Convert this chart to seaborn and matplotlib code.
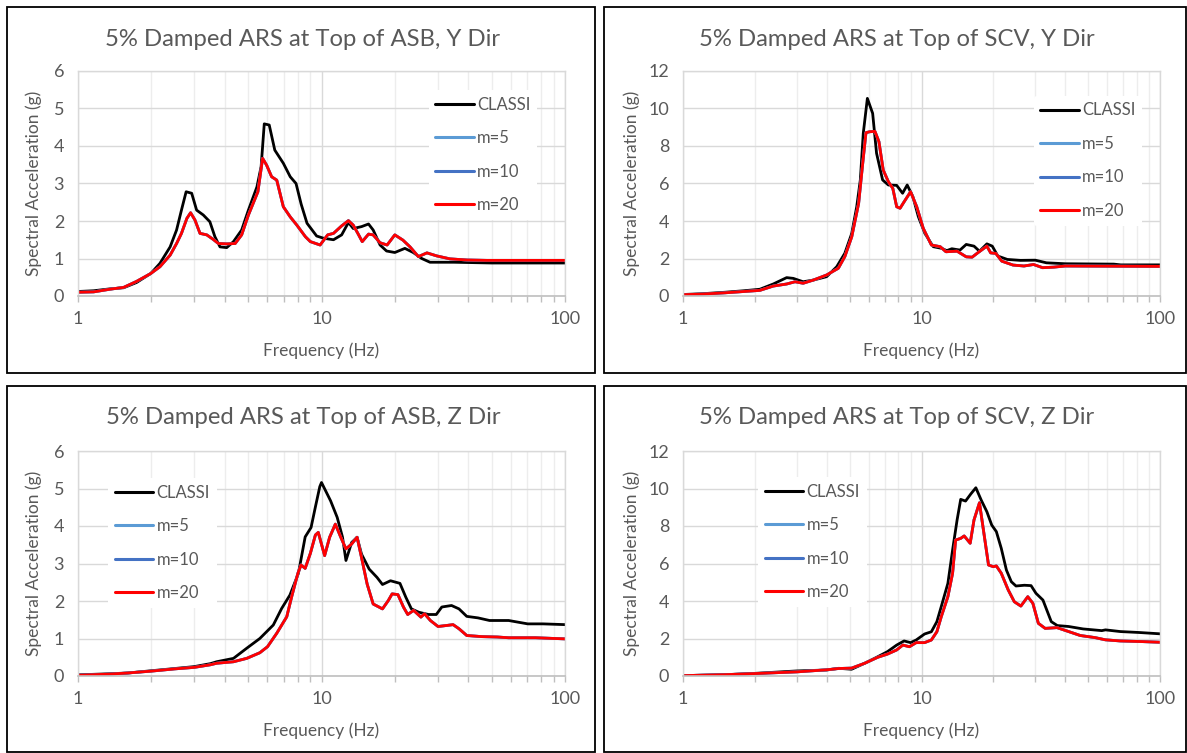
import matplotlib
matplotlib.use("Agg")
import matplotlib.pyplot as plt
import matplotlib.ticker as mticker
from matplotlib.patches import Rectangle
import seaborn as sns

# ---- ASB, Y direction ----
ASB_Y_F_CLASSI = [1.0, 1.16, 1.35, 1.54, 1.74, 1.99, 2.17, 2.39, 2.54, 2.66, 2.78, 2.93, 3.07, 3.27,
                  3.48, 3.65, 3.83, 4.08, 4.35, 4.70, 5.01, 5.43, 5.65, 5.82, 6.10, 6.43, 6.97, 7.44,
                  7.86, 8.25, 8.72, 9.55, 10.2, 11.2, 12.1, 12.9, 13.5, 14.6, 15.6, 16.3, 17.4, 18.5,
                  20.0, 22.0, 23.8, 25.8, 27.9, 35.0, 50.0, 70.0, 100.0]
ASB_Y_CLASSI = [0.12, 0.14, 0.19, 0.22, 0.36, 0.60, 0.87, 1.31, 1.76, 2.29, 2.78, 2.74, 2.29, 2.16,
                1.98, 1.58, 1.31, 1.29, 1.45, 1.76, 2.29, 2.91, 3.45, 4.59, 4.56, 3.89, 3.54, 3.18,
                3.00, 2.45, 1.94, 1.60, 1.54, 1.50, 1.63, 1.96, 1.80, 1.85, 1.92, 1.76, 1.36, 1.20,
                1.16, 1.27, 1.16, 1.00, 0.90, 0.90, 0.88, 0.88, 0.88]
ASB_Y_F_M20 = [1.0, 1.16, 1.35, 1.54, 1.74, 1.99, 2.17, 2.39, 2.54, 2.66, 2.80, 2.90, 3.02, 3.17,
               3.38, 3.59, 3.77, 4.08, 4.42, 4.70, 5.01, 5.48, 5.73, 5.95, 6.24, 6.55, 6.97, 7.44,
               7.92, 8.59, 9.0, 9.87, 10.6, 11.2, 12.1, 12.9, 13.5, 14.1, 14.7, 15.6, 16.3, 17.4,
               18.6, 20.0, 21.6, 23.1, 25.0, 27.1, 29.7, 33.7, 39.6, 47.7, 70.0, 100.0]
ASB_Y_M20 = [0.10, 0.11, 0.18, 0.23, 0.39, 0.60, 0.78, 1.09, 1.40, 1.67, 2.07, 2.22, 2.03, 1.67,
             1.63, 1.51, 1.40, 1.39, 1.40, 1.63, 2.16, 2.78, 3.67, 3.49, 3.18, 3.09, 2.38, 2.11,
             1.89, 1.58, 1.45, 1.36, 1.63, 1.67, 1.87, 2.01, 1.89, 1.67, 1.45, 1.65, 1.63, 1.42,
             1.36, 1.63, 1.49, 1.31, 1.05, 1.15, 1.07, 0.99, 0.96, 0.95, 0.95, 0.95]

# ---- SCV, Y direction ----
SCV_Y_F_CLASSI = [1.0, 1.2, 1.5, 1.8, 2.10, 2.39, 2.72, 2.90, 3.19, 3.52, 4.0, 4.41, 4.77, 5.10,
                  5.35, 5.54, 5.70, 5.93, 6.24, 6.48, 6.87, 7.26, 7.87, 8.33, 8.71, 9.2, 9.7, 10.33,
                  11.2, 12.17, 12.76, 13.4, 14.5, 15.4, 16.6, 17.5, 18.8, 19.8, 20.9, 22.9, 26.0,
                  30.0, 33.4, 40.1, 64.0, 68.5, 100.0]
SCV_Y_CLASSI = [0.08, 0.12, 0.20, 0.28, 0.36, 0.64, 0.98, 0.94, 0.76, 0.85, 1.03, 1.56, 2.28, 3.34,
                4.76, 6.19, 8.68, 10.54, 9.74, 7.61, 6.19, 5.92, 5.90, 5.48, 5.92, 5.30, 4.23, 3.34,
                2.63, 2.54, 2.42, 2.52, 2.45, 2.75, 2.66, 2.39, 2.78, 2.66, 2.13, 1.95, 1.90,
                1.91, 1.77, 1.72, 1.70, 1.66, 1.66]
SCV_Y_F_M20 = [1.0, 1.2, 1.5, 1.8, 2.10, 2.39, 2.72, 2.95, 3.19, 3.52, 4.0, 4.48, 4.77, 5.10, 5.45,
               5.67, 5.85, 6.06, 6.38, 6.63, 6.91, 7.26, 7.58, 7.87, 8.13, 8.46, 9.0, 9.55, 10.17,
               11.0, 11.98, 12.66, 14.1, 15.4, 16.3, 17.2, 18.8, 19.5, 20.5, 21.7, 24.2, 26.9,
               29.5, 32.2, 35.9, 40.0, 100.0]
SCV_Y_M20 = [0.07, 0.10, 0.17, 0.24, 0.30, 0.53, 0.64, 0.76, 0.68, 0.85, 1.12, 1.48, 2.10, 3.16, 4.94,
             7.08, 8.71, 8.76, 8.78, 8.23, 6.72, 6.10, 5.74, 4.76, 4.68, 5.03, 5.56, 4.76, 3.61,
             2.72, 2.63, 2.36, 2.39, 2.09, 2.07, 2.30, 2.66, 2.30, 2.27, 1.86, 1.65, 1.60,
             1.68, 1.51, 1.54, 1.60, 1.58]

# ---- ASB, Z direction ----
ASB_Z_F_CLASSI = [1.0, 1.35, 1.6, 2.0, 2.5, 3.0, 3.5, 3.71, 4.35, 4.93, 5.58, 6.34, 6.86, 7.42, 8.04,
                  8.57, 9.06, 9.44, 9.84, 10.0, 10.9, 11.6, 12.2, 12.6, 13.3, 14.0, 14.6, 15.7, 16.9,
                  17.8, 19.2, 21.0, 22.2, 23.4, 25.1, 27.5, 29.6, 31.2, 34.2, 36.7, 39.5, 43.9,
                  49.0, 58.7, 70.3, 81.2, 100.0]
ASB_Z_CLASSI = [0.03, 0.06, 0.08, 0.14, 0.20, 0.25, 0.33, 0.38, 0.47, 0.74, 1.00, 1.36, 1.80, 2.16, 2.74,
                3.71, 3.96, 4.51, 5.05, 5.16, 4.67, 4.23, 3.70, 3.08, 3.56, 3.70, 3.25, 2.85, 2.63,
                2.44, 2.54, 2.47, 2.10, 1.79, 1.70, 1.64, 1.64, 1.84, 1.88, 1.79, 1.59, 1.55,
                1.48, 1.48, 1.39, 1.39, 1.37]
ASB_Z_F_M20 = [1.0, 1.35, 1.6, 2.0, 2.5, 3.0, 3.5, 3.71, 4.35, 4.93, 5.58, 6.0, 6.55, 7.2, 7.54, 8.0,
               8.24, 8.57, 9.0, 9.44, 9.7, 10.3, 10.8, 11.4, 12.0, 12.6, 13.3, 14.0, 14.6, 15.4,
               16.3, 17.8, 18.8, 19.5, 20.6, 21.7, 22.6, 23.9, 25.6, 26.5, 28.0, 30.1, 32.9, 34.7,
               36.7, 39.5, 45.6, 52.7, 58.7, 75.6, 100.0]
ASB_Z_M20 = [0.02, 0.05, 0.08, 0.13, 0.19, 0.23, 0.30, 0.34, 0.38, 0.47, 0.62, 0.78, 1.14, 1.58, 2.11,
             2.74, 2.96, 2.87, 3.27, 3.76, 3.83, 3.21, 3.70, 4.05, 3.70, 3.39, 3.52, 3.70, 3.16,
             2.45, 1.92, 1.79, 2.01, 2.19, 2.17, 1.84, 1.64, 1.75, 1.57, 1.66, 1.48, 1.32, 1.35,
             1.37, 1.26, 1.08, 1.05, 1.04, 1.02, 1.02, 0.99]

# ---- SCV, Z direction ----
SCV_Z_F_CLASSI = [1.0, 1.5, 2.0, 3.0, 4.0, 4.5, 5.09, 5.78, 6.56, 7.2, 7.87, 8.45, 9.0, 9.5, 10.3,
                  11.0, 11.6, 12.1, 12.9, 13.5, 14.1, 14.6, 15.3, 16.1, 16.9, 17.8, 18.8, 19.7, 20.6,
                  21.6, 22.7, 23.8, 24.9, 27.0, 28.8, 30.2, 32.3, 35.0, 37.1, 41.4, 47.6, 57.0,
                  59.1, 68.2, 81.8, 100.0]
SCV_Z_CLASSI = [0.02, 0.07, 0.14, 0.27, 0.32, 0.41, 0.36, 0.68, 1.03, 1.30, 1.65, 1.87, 1.78, 1.92, 2.24,
                2.36, 2.90, 3.70, 4.94, 6.72, 8.32, 9.42, 9.33, 9.71, 10.04, 9.38, 8.76, 8.05, 7.70,
                6.81, 5.65, 5.03, 4.80, 4.84, 4.82, 4.41, 4.05, 2.90, 2.69, 2.64, 2.51, 2.42,
                2.46, 2.37, 2.32, 2.25]
SCV_Z_F_M20 = [1.0, 1.5, 2.0, 3.0, 4.0, 4.5, 5.09, 5.78, 6.56, 7.2, 7.87, 8.35, 8.9, 9.5, 10.3, 11.0,
               11.6, 12.1, 12.9, 13.5, 13.9, 14.6, 15.1, 16.0, 16.6, 17.5, 18.1, 19.1, 20.0, 20.6,
               21.6, 23.1, 24.5, 26.1, 27.9, 29.3, 30.9, 33.0, 37.0, 41.4, 46.3, 53.3, 59.0, 68.0,
               82.0, 100.0]
SCV_Z_M20 = [0.02, 0.07, 0.13, 0.22, 0.33, 0.40, 0.42, 0.68, 1.00, 1.17, 1.39, 1.65, 1.56, 1.78, 1.78,
             1.92, 2.36, 3.16, 4.23, 5.48, 7.25, 7.34, 7.47, 7.08, 8.32, 9.24, 7.96, 5.92, 5.83,
             5.87, 5.48, 4.59, 3.96, 3.73, 4.23, 3.88, 2.81, 2.54, 2.58, 2.37, 2.16, 2.05, 1.93,
             1.87, 1.84, 1.80]

# m=5 and m=10 lie right under the m=20 curve in every panel
SERIES_NAMES = ["CLASSI", "m=5", "m=10", "m=20"]
COLORS = ["#000000", "#5B9BD5", "#4472C4", "#FF0000"]

TEXT = "#595959"
GRID = "#D9D9D9"

sns.set_theme(style="white")
plt.rcParams["font.family"] = ["Lato", "DejaVu Sans"]

fig = plt.figure(figsize=(11.87, 7.53), dpi=100)
W, H = 1187.0, 753.0


def px_rect(x0, y0, x1, y1):
    return [x0 / W, 1 - y1 / H, (x1 - x0) / W, (y1 - y0) / H]


panels = [
    ("5% Damped ARS at Top of ASB, Y Dir", 6, 1, (78, 71, 565, 296), (7, 7, 595, 373), (0.72, 0.915),
     [(ASB_Y_F_CLASSI, ASB_Y_CLASSI), (ASB_Y_F_M20, ASB_Y_M20), (ASB_Y_F_M20, ASB_Y_M20), (ASB_Y_F_M20, ASB_Y_M20)]),
    ("5% Damped ARS at Top of SCV, Y Dir", 12, 2, (683, 71, 1160, 296), (604, 7, 1186, 373), (0.735, 0.89),
     [(SCV_Y_F_CLASSI, SCV_Y_CLASSI), (SCV_Y_F_M20, SCV_Y_M20), (SCV_Y_F_M20, SCV_Y_M20), (SCV_Y_F_M20, SCV_Y_M20)]),
    ("5% Damped ARS at Top of ASB, Z Dir", 6, 1, (78, 451, 565, 676), (7, 386, 595, 752), (0.062, 0.88),
     [(ASB_Z_F_CLASSI, ASB_Z_CLASSI), (ASB_Z_F_M20, ASB_Z_M20), (ASB_Z_F_M20, ASB_Z_M20), (ASB_Z_F_M20, ASB_Z_M20)]),
    ("5% Damped ARS at Top of SCV, Z Dir", 12, 2, (683, 451, 1160, 676), (604, 386, 1186, 752), (0.158, 0.885),
     [(SCV_Z_F_CLASSI, SCV_Z_CLASSI), (SCV_Z_F_M20, SCV_Z_M20), (SCV_Z_F_M20, SCV_Z_M20), (SCV_Z_F_M20, SCV_Z_M20)]),
]

for title, ymax, ystep, ax_px, box_px, leg_anchor, series in panels:
    # chart border like the Excel chart area
    fig.patches.append(Rectangle((box_px[0] / W, 1 - box_px[3] / H),
                                 (box_px[2] - box_px[0]) / W, (box_px[3] - box_px[1]) / H,
                                 transform=fig.transFigure, fill=False, edgecolor="#000000", linewidth=1.3))

    ax = fig.add_axes(px_rect(*ax_px))
    for (f, v), name, c in zip(series, SERIES_NAMES, COLORS):
        sns.lineplot(x=f, y=v, ax=ax, color=c, linewidth=2.0, label=name)

    ax.set_xscale("log")
    ax.set_xlim(1, 100)
    ax.set_ylim(0, ymax)
    ax.set_yticks(range(0, ymax + 1, ystep))
    ax.xaxis.set_major_locator(mticker.FixedLocator([1, 10, 100]))
    ax.xaxis.set_major_formatter(mticker.FixedFormatter(["1", "10", "100"]))
    ax.xaxis.set_minor_locator(mticker.LogLocator(base=10, subs=range(2, 10)))
    ax.xaxis.set_minor_formatter(mticker.NullFormatter())

    ax.grid(True, which="major", color=GRID, linewidth=1.0)
    ax.grid(True, which="minor", axis="x", color="#EDEDED", linewidth=1.0)
    ax.set_axisbelow(True)
    for side in ["left", "top", "right"]:
        ax.spines[side].set_color(GRID)
        ax.spines[side].set_linewidth(1.0)
    ax.spines["bottom"].set_color("#BFBFBF")
    ax.spines["bottom"].set_linewidth(1.2)

    ax.tick_params(axis="x", which="both", direction="out", bottom=True, color="#BFBFBF",
                   length=4, width=1.0, labelsize=13, labelcolor=TEXT, pad=7)
    ax.tick_params(axis="y", left=False, labelsize=13, labelcolor=TEXT, pad=4)

    ax.text(0.5, -0.245, "Frequency (Hz)", transform=ax.transAxes, ha="center", va="center",
            fontsize=12.5, color=TEXT)
    ax.text(-0.09 if ymax == 6 else -0.107, 0.5, "Spectral Acceleration (g)", transform=ax.transAxes,
            ha="center", va="center", rotation=90, fontsize=12.5, color=TEXT)
    ax.set_xlabel("")
    ax.set_ylabel("")

    cx = (box_px[0] + box_px[2]) / 2.0 + 2
    fig.text(cx / W, 1 - (box_px[1] + 32) / H, title, ha="center", va="center", fontsize=17.2, color=TEXT)

    handles, labels = ax.get_legend_handles_labels()
    leg = ax.legend(handles, labels, loc="upper left", bbox_to_anchor=leg_anchor, frameon=True,
                    fontsize=12, labelcolor=TEXT, handlelength=2.3, handletextpad=0.2,
                    labelspacing=1.05, borderpad=0.4, borderaxespad=0)
    leg.get_frame().set_facecolor("white")
    leg.get_frame().set_edgecolor("none")
    leg.get_frame().set_alpha(1.0)
    for line in leg.get_lines():
        line.set_linewidth(2.2)

fig.savefig("out.png", dpi=100, facecolor="white")
